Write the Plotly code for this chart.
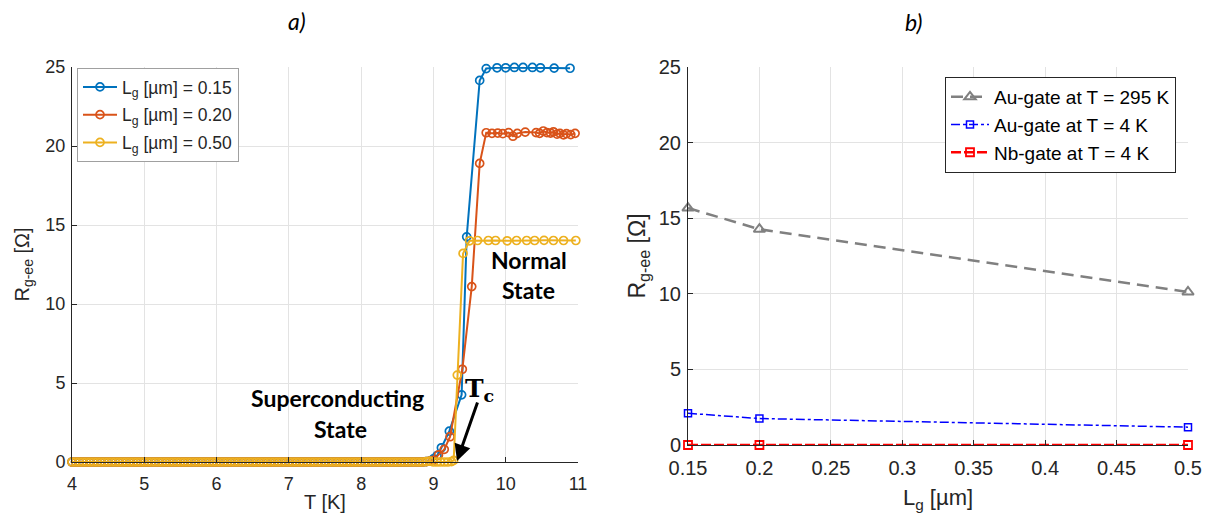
import plotly.graph_objects as go

# ---------------- data: panel a) ----------------
T_LOW = [4.00, 4.05, 4.10, 4.15, 4.20, 4.25, 4.30, 4.35, 4.40, 4.45,
         4.50, 4.55, 4.60, 4.65, 4.70, 4.75, 4.80, 4.85, 4.90, 4.95,
         5.00, 5.05, 5.10, 5.15, 5.20, 5.25, 5.30, 5.35, 5.40, 5.45,
         5.50, 5.55, 5.60, 5.65, 5.70, 5.75, 5.80, 5.85, 5.90, 5.95,
         6.00, 6.05, 6.10, 6.15, 6.20, 6.25, 6.30, 6.35, 6.40, 6.45,
         6.50, 6.55, 6.60, 6.65, 6.70, 6.75, 6.80, 6.85, 6.90, 6.95,
         7.00, 7.05, 7.10, 7.15, 7.20, 7.25, 7.30, 7.35, 7.40, 7.45,
         7.50, 7.55, 7.60, 7.65, 7.70, 7.75, 7.80, 7.85, 7.90, 7.95,
         8.00, 8.05, 8.10, 8.15, 8.20, 8.25, 8.30, 8.35, 8.40, 8.45,
         8.50, 8.55, 8.60, 8.65, 8.70, 8.75, 8.80, 8.85, 8.90, 8.95]
R_LOW = [0.00, 0.00, 0.00, 0.00, 0.00, 0.00, 0.00, 0.00, 0.00, 0.00,
         0.00, 0.00, 0.00, 0.00, 0.00, 0.00, 0.00, 0.00, 0.00, 0.00,
         0.00, 0.00, 0.00, 0.00, 0.00, 0.00, 0.00, 0.00, 0.00, 0.00,
         0.00, 0.00, 0.00, 0.00, 0.00, 0.00, 0.00, 0.00, 0.00, 0.00,
         0.00, 0.00, 0.00, 0.00, 0.00, 0.00, 0.00, 0.00, 0.00, 0.00,
         0.00, 0.00, 0.00, 0.00, 0.00, 0.00, 0.00, 0.00, 0.00, 0.00,
         0.00, 0.00, 0.00, 0.00, 0.00, 0.00, 0.00, 0.00, 0.00, 0.00,
         0.00, 0.00, 0.00, 0.00, 0.00, 0.00, 0.00, 0.00, 0.00, 0.00,
         0.00, 0.00, 0.00, 0.00, 0.00, 0.00, 0.00, 0.00, 0.00, 0.00,
         0.00, 0.00, 0.00, 0.00, 0.00, 0.00, 0.00, 0.00, 0.02, 0.05]

T_RISE_015 = [9.00, 9.05, 9.11, 9.22, 9.39, 9.46, 9.64, 9.73, 9.88, 10.00,
              10.12, 10.24, 10.37, 10.48, 10.67, 10.89]
R_RISE_015 = [0.20, 0.40, 0.90, 1.95, 4.25, 14.25, 24.15, 24.90, 24.95, 24.95,
              24.97, 24.97, 24.97, 24.95, 24.93, 24.92]

T_RISE_020 = [9.00, 9.07, 9.15, 9.23, 9.40, 9.53, 9.64, 9.73, 9.81, 9.89,
              9.96, 10.04, 10.10, 10.16, 10.27, 10.42, 10.47, 10.52, 10.57, 10.62,
              10.66, 10.71, 10.75, 10.80, 10.84, 10.90, 10.96]
R_RISE_020 = [0.10, 0.45, 0.80, 1.60, 5.87, 11.10, 18.90, 20.84, 20.80, 20.82,
              20.78, 20.85, 20.62, 20.80, 20.88, 20.85, 20.80, 20.95, 20.85, 20.82,
              20.90, 20.75, 20.80, 20.70, 20.78, 20.72, 20.80]

T_RISE_050 = [9.00, 9.05, 9.10, 9.15, 9.20, 9.25, 9.28, 9.33, 9.41, 9.50,
              9.61, 9.76, 9.86, 10.02, 10.15, 10.29, 10.40, 10.53, 10.66, 10.80,
              10.97]
R_RISE_050 = [0.00, 0.00, 0.00, 0.00, 0.00, 0.02, 0.10, 5.50, 13.20, 14.00,
              14.02, 14.02, 14.02, 14.00, 14.02, 14.02, 14.02, 14.03, 14.02, 14.02,
              14.02]

LEGEND_A = ["L<sub>g</sub> [µm] = 0.15", "L<sub>g</sub> [µm] = 0.20", "L<sub>g</sub> [µm] = 0.50"]
X_TICKS_A = [4, 5, 6, 7, 8, 9, 10, 11]
Y_TICKS = [0, 5, 10, 15, 20, 25]

# ---------------- data: panel b) ----------------
LG = [0.15, 0.20, 0.50]
AU_295K = [15.67, 14.27, 10.12]
AU_4K = [2.10, 1.75, 1.18]
NB_4K = [0.00, 0.00, 0.00]
LEGEND_B = ["Au-gate at T = 295 K", "Au-gate at T = 4 K", "Nb-gate at T = 4 K"]
X_TICKS_B = [0.15, 0.20, 0.25, 0.30, 0.35, 0.40, 0.45, 0.50]
X_TICKTEXT_B = ["0.15", "0.2", "0.25", "0.3", "0.35", "0.4", "0.45", "0.5"]

W, H = 1207, 525
def px_x(p): return p / W
def px_y(p): return 1 - p / H

BLUE, ORANGE, YELLOW = "#0072BD", "#D95319", "#EDB120"
TXT = "#262626"
GRID = "#e3e3e3"
SANS = "Liberation Sans, Arial"

fig = go.Figure()

series_a = [
    (T_LOW + T_RISE_015, R_LOW + R_RISE_015, BLUE, LEGEND_A[0]),
    (T_LOW + T_RISE_020, R_LOW + R_RISE_020, ORANGE, LEGEND_A[1]),
    (T_LOW + T_RISE_050, R_LOW + R_RISE_050, YELLOW, LEGEND_A[2]),
]
for i, (xs, ys, col, name) in enumerate(series_a):
    fig.add_trace(go.Scatter(
        x=xs, y=ys, mode="lines+markers", name=name,
        line=dict(color=col, width=2),
        marker=dict(symbol="circle-open", size=8, color=col, line=dict(width=1.7, color=col)),
        cliponaxis=False, xaxis="x", yaxis="y", legend="legend", legendgroup=f"a{i}"))

fig.add_trace(go.Scatter(
    x=LG, y=AU_295K, mode="lines+markers", name=LEGEND_B[0],
    line=dict(color="#808080", width=2.5, dash="12px,7px"),
    marker=dict(symbol="triangle-up-open", size=10, color="#808080", line=dict(width=2, color="#808080")),
    cliponaxis=False, xaxis="x2", yaxis="y2", legend="legend2"))
fig.add_trace(go.Scatter(
    x=LG, y=AU_4K, mode="lines+markers", name=LEGEND_B[1],
    line=dict(color="#0000FF", width=1.5, dash="dashdot"),
    marker=dict(symbol="square-open", size=7, color="#0000FF", line=dict(width=1.5, color="#0000FF")),
    cliponaxis=False, xaxis="x2", yaxis="y2", legend="legend2"))
fig.add_trace(go.Scatter(
    x=LG, y=NB_4K, mode="lines+markers", name=LEGEND_B[2],
    line=dict(color="#FF0000", width=2.5, dash="10px,3px"),
    marker=dict(symbol="square-open", size=8, color="#FF0000", line=dict(width=1.8, color="#FF0000")),
    cliponaxis=False, xaxis="x2", yaxis="y2", legend="legend2"))

def axis(fontsize, standoff):
    return dict(showgrid=True, gridcolor=GRID, gridwidth=1, zeroline=False,
                showline=True, linecolor=TXT, linewidth=1, ticks="inside",
                ticklen=5, tickcolor=TXT, mirror=False, automargin=False,
                tickfont=dict(family=SANS, size=fontsize, color=TXT),
                ticklabelstandoff=standoff)

fig.update_layout(
    width=W, height=H, margin=dict(l=0, r=0, t=0, b=0, autoexpand=False),
    paper_bgcolor="white", plot_bgcolor="white",
    xaxis=dict(domain=[px_x(72), px_x(578)], range=[4, 11], tickvals=X_TICKS_A,
               anchor="y", title=dict(text="T [K]", font=dict(family=SANS, size=20, color=TXT), standoff=2),
               **axis(18, 5)),
    yaxis=dict(domain=[px_y(462), px_y(67)], range=[0, 25], tickvals=Y_TICKS,
               anchor="x", title=dict(text="R<sub>g-ee</sub> [Ω]", font=dict(family=SANS, size=20, color=TXT), standoff=10),
               **axis(18, 2)),
    xaxis2=dict(domain=[px_x(688), px_x(1188)], range=[0.15, 0.5], tickvals=X_TICKS_B, ticktext=X_TICKTEXT_B,
                anchor="y2", title=dict(text="L<sub>g</sub> [µm]", font=dict(family=SANS, size=22, color=TXT), standoff=11),
                **axis(20, 5)),
    yaxis2=dict(domain=[px_y(445), px_y(67)], range=[0, 25], tickvals=Y_TICKS,
                anchor="x2", title=dict(text="R<sub>g-ee</sub> [Ω]", font=dict(family=SANS, size=23, color=TXT), standoff=6),
                **axis(20, 2)),
    legend=dict(x=px_x(77), y=px_y(68), xanchor="left", yanchor="top",
                bgcolor="white", bordercolor="#a0a0a0", borderwidth=1,
                font=dict(family=SANS, size=17.5, color=TXT),
                tracegroupgap=2, itemwidth=34),
    legend2=dict(x=px_x(945), y=px_y(77), xanchor="left", yanchor="top",
                 bgcolor="white", bordercolor="#262626", borderwidth=1,
                 font=dict(family=SANS, size=19, color="black"),
                 tracegroupgap=0, itemwidth=38),
    showlegend=True,
)

ann_font_bold = dict(family="Lato, Open Sans", size=23, color="black")
def label(text, x, y, font):
    return dict(text=text, x=px_x(x), y=px_y(y), xref="paper", yref="paper",
                xanchor="center", yanchor="middle", showarrow=False, font=font)

annotations = [
    label("<i>a)</i>", 297, 21, dict(family="Lato, Open Sans", size=23, color="black")),
    label("<i>b)</i>", 914, 22, dict(family="Lato, Open Sans", size=23, color="black")),
    label("<b>Normal</b>", 529, 260, ann_font_bold),
    label("<b>State</b>", 528, 290, ann_font_bold),
    label("<b>Superconducting</b>", 337, 398, ann_font_bold),
    label("<b>State</b>", 340, 429, ann_font_bold),
    label("<b>T<sub>c</sub></b>", 479, 390, dict(family="DejaVu Serif, Liberation Serif", size=25, color="black")),
    dict(text="", x=px_x(457), y=px_y(461), xref="paper", yref="paper",
         ax=21, ay=-60, axref="pixel", ayref="pixel",
         showarrow=True, arrowhead=2, arrowsize=1.1, arrowwidth=3, arrowcolor="black"),
]
fig.update_layout(annotations=annotations)

fig.write_html("out.html", config={"displayModeBar": False},
               post_script="document.body.style.margin='0';document.body.style.padding='0';")
